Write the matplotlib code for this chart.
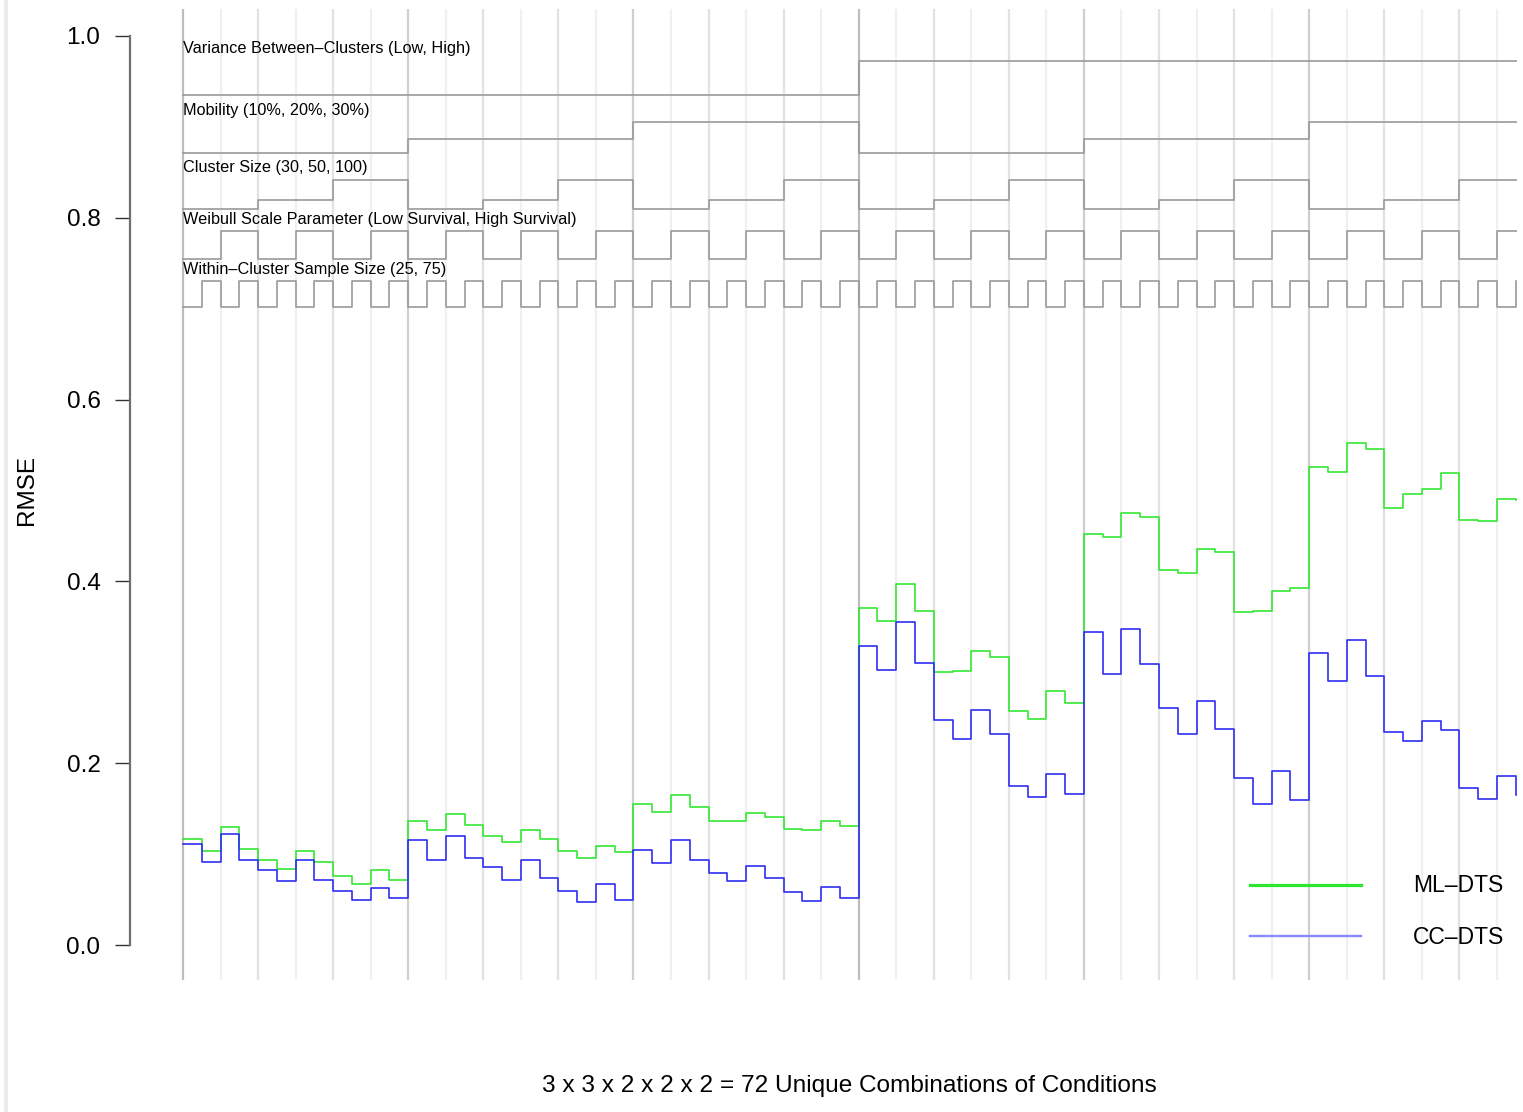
import numpy as np
import matplotlib.pyplot as plt
from matplotlib.lines import Line2D

plt.rcParams['font.family'] = ['Liberation Sans', 'DejaVu Sans']

# RMSE for each of the 72 design cells, in nested-loop order
ml_dts = [0.117, 0.103, 0.130, 0.106, 0.093, 0.084, 0.103, 0.091, 0.076, 0.067, 0.083, 0.072,
          0.136, 0.127, 0.144, 0.132, 0.120, 0.113, 0.127, 0.117, 0.103, 0.096, 0.109, 0.102,
          0.155, 0.146, 0.165, 0.152, 0.136, 0.136, 0.145, 0.141, 0.128, 0.126, 0.136, 0.131,
          0.371, 0.356, 0.397, 0.367, 0.300, 0.301, 0.323, 0.317, 0.257, 0.249, 0.279, 0.266,
          0.452, 0.449, 0.475, 0.471, 0.413, 0.409, 0.436, 0.432, 0.366, 0.367, 0.390, 0.393,
          0.526, 0.520, 0.552, 0.546, 0.481, 0.496, 0.502, 0.519, 0.468, 0.467, 0.491, 0.490]
cc_dts = [0.111, 0.091, 0.122, 0.094, 0.082, 0.070, 0.094, 0.072, 0.059, 0.050, 0.063, 0.052,
          0.115, 0.094, 0.120, 0.096, 0.086, 0.072, 0.094, 0.074, 0.059, 0.047, 0.067, 0.050,
          0.105, 0.090, 0.115, 0.093, 0.079, 0.070, 0.087, 0.074, 0.058, 0.048, 0.064, 0.052,
          0.329, 0.303, 0.355, 0.310, 0.248, 0.227, 0.259, 0.232, 0.175, 0.163, 0.188, 0.166,
          0.344, 0.298, 0.348, 0.309, 0.261, 0.232, 0.268, 0.238, 0.184, 0.155, 0.192, 0.160,
          0.321, 0.290, 0.336, 0.296, 0.234, 0.225, 0.246, 0.237, 0.173, 0.161, 0.186, 0.165]

# design factors (outer to inner) and the heights of their reference step lines
factor_names = ['Variance Between\u2013Clusters (Low, High)',
                'Mobility (10%, 20%, 30%)',
                'Cluster Size (30, 50, 100)',
                'Weibull Scale Parameter (Low Survival, High Survival)',
                'Within\u2013Cluster Sample Size (25, 75)']
factor_nlevels = [2, 3, 3, 2, 2]
var_levels = [0.935, 0.973]
mob_levels = [0.871, 0.887, 0.905]
size_levels = [0.810, 0.820, 0.842]
weib_levels = [0.755, 0.785]
within_levels = [0.702, 0.730]
ref_levels = [var_levels, mob_levels, size_levels, weib_levels, within_levels]

series_names = ['ML\u2013DTS', 'CC\u2013DTS']

W, H = 1523, 1112
fig = plt.figure(figsize=(W / 100, H / 100), dpi=100)
ax = fig.add_axes([130 / W, (H - 981.4) / H, (1517 - 130) / W, 981.4 / H])

n = len(ml_dts)
edges = np.arange(n + 1)

# factor codes for every cell of the fully crossed design
codes = []
block = n
for k in factor_nlevels:
    block = block // k
    codes.append((np.arange(n) // block) % k)

# vertical guide lines, darker where an outer factor changes
for i in range(0, n, 2):
    if i % 36 == 0:
        col = '#bdbdbd'
    elif i % 12 == 0:
        col = '#cfcfcf'
    elif i % 4 == 0:
        col = '#e2e2e2'
    else:
        col = '#f0f0f0'
    ax.plot([i, i], [-0.0385, 1.0297], color=col, lw=1.6, zorder=0,
            solid_capstyle='butt')

# reference step lines with their labels
for name, lev, cd in zip(factor_names, ref_levels, codes):
    yv = np.array(lev)[cd]
    ax.plot(edges, np.append(yv, yv[-1]), drawstyle='steps-post',
            color='#9a9a9a', lw=1.2, zorder=1)
    ax.text(0, max(lev) + 0.013, name, fontsize=11.7, ha='left', va='center', zorder=3)

ax.plot(edges, np.append(ml_dts, ml_dts[-1]), drawstyle='steps-post',
        color='#33e833', lw=1.2, zorder=2)
ax.plot(edges, np.append(cc_dts, cc_dts[-1]), drawstyle='steps-post',
        color='#2e2ef2', lw=1.2, zorder=2)

ax.set_xlim((130 - 183) / 18.77, (1517 - 183) / 18.77)
ax.set_ylim(-0.04, 1.0396)

for s in ['top', 'right', 'bottom']:
    ax.spines[s].set_visible(False)
ax.spines['left'].set_bounds(0, 1)
ax.spines['left'].set_color('#6e6e6e')
ax.spines['left'].set_linewidth(1.6)
ax.set_xticks([])
ax.set_yticks([0.0, 0.2, 0.4, 0.6, 0.8, 1.0])
ax.set_yticklabels(['0.0', '0.2', '0.4', '0.6', '0.8', '1.0'])
ax.tick_params(axis='y', length=10.8, width=1.0, pad=10.5, labelsize=17.5, color='#333333')

fig.text(27 / W, 1 - 490 / H, 'RMSE', rotation=90, fontsize=17.5, ha='center', va='center')
fig.text(849 / W, 1 - 1086 / H, '3 x 3 x 2 x 2 x 2 = 72 Unique Combinations of Conditions',
         fontsize=17.6, ha='center', va='center')

# legend drawn by hand
fig.add_artist(Line2D([1250 / W, 1361 / W], [1 - 885 / H] * 2, color='#2ee62e', lw=2.3))
fig.add_artist(Line2D([1250 / W, 1361 / W], [1 - 936 / H] * 2, color='#8a8aff', lw=1.7))
fig.text(1413 / W, 1 - 886 / H, series_names[0], fontsize=16.5, ha='left', va='center')
fig.text(1413 / W, 1 - 937 / H, series_names[1], fontsize=16.5, ha='left', va='center')

# window edge on the far left
fig.add_artist(Line2D([6 / W, 6 / W], [0, 1], color='#ececec', lw=3))

fig.savefig('out.png', dpi=100)
